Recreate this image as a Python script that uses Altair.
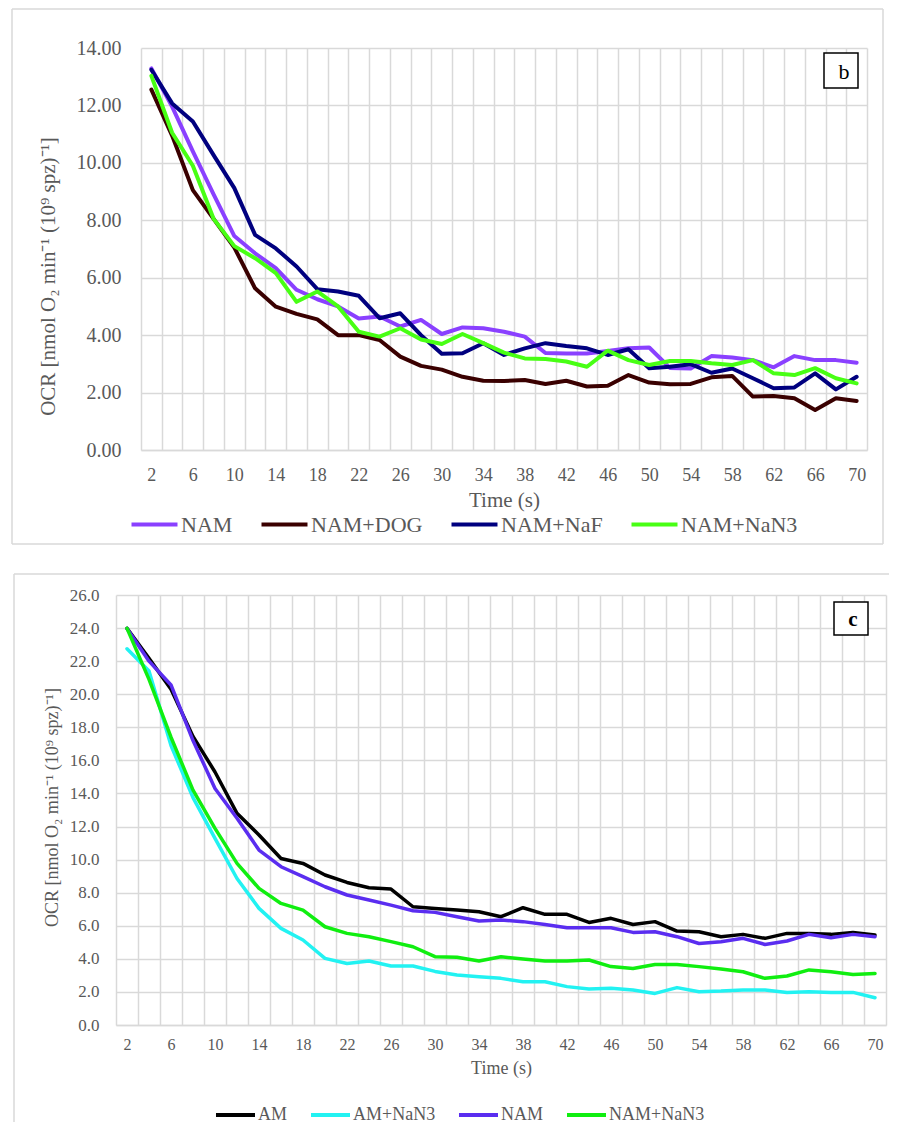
import altair as alt
import pandas as pd

# ---------------- data ----------------
time_s = list(range(2, 71, 2))

b_series = ["NAM", "NAM+DOG", "NAM+NaF", "NAM+NaN3"]
b_colors = ["#8A40FF", "#3A0000", "#00007F", "#48FF14"]
b_nam = [13.29, 11.96, 10.4, 8.9, 7.45, 6.85, 6.33, 5.58, 5.25, 5.0,
         4.58, 4.65, 4.3, 4.53, 4.04, 4.27, 4.24, 4.12, 3.95, 3.38,
         3.36, 3.36, 3.45, 3.54, 3.57, 2.86, 2.84, 3.27, 3.22, 3.13,
         2.88, 3.27, 3.13, 3.13, 3.04]
b_dog = [12.55, 10.95, 9.05, 8.05, 7.05, 5.63, 4.99, 4.74, 4.55, 4.0,
         4.0, 3.83, 3.25, 2.93, 2.8, 2.55, 2.41, 2.4, 2.44, 2.3,
         2.41, 2.21, 2.24, 2.61, 2.35, 2.29, 2.3, 2.53, 2.58, 1.86,
         1.88, 1.8, 1.39, 1.8, 1.71]
b_naf = [13.24, 12.07, 11.44, 10.27, 9.12, 7.49, 7.02, 6.39, 5.6, 5.52,
         5.37, 4.59, 4.76, 4.0, 3.35, 3.37, 3.72, 3.31, 3.54, 3.72,
         3.62, 3.54, 3.31, 3.51, 2.85, 2.9, 2.99, 2.69, 2.84, 2.5,
         2.15, 2.18, 2.67, 2.11, 2.55]
b_nan3 = [13.03, 11.05, 9.9, 8.05, 7.1, 6.68, 6.16, 5.16, 5.52, 5.0,
          4.12, 3.95, 4.24, 3.85, 3.69, 4.04, 3.72, 3.39, 3.19, 3.17,
          3.08, 2.9, 3.46, 3.13, 2.96, 3.1, 3.1, 3.02, 2.96, 3.13,
          2.67, 2.61, 2.85, 2.5, 2.32]

c_series = ["AM", "AM+NaN3", "NAM", "NAM+NaN3"]
c_colors = ["#000000", "#22F2F2", "#5A2DF0", "#10EE10"]
c_am = [23.98, 22.17, 20.3, 17.45, 15.3, 12.8, 11.49, 10.07, 9.77, 9.07,
        8.62, 8.3, 8.22, 7.15, 7.05, 6.95, 6.85, 6.55, 7.09, 6.69,
        6.69, 6.2, 6.45, 6.08, 6.25, 5.68, 5.64, 5.34, 5.48, 5.24,
        5.54, 5.54, 5.48, 5.6, 5.44]
c_am_nan3 = [22.75, 21.4, 16.9, 13.75, 11.28, 8.86, 7.05, 5.84, 5.14, 4.03,
             3.72, 3.87, 3.57, 3.57, 3.24, 3.02, 2.92, 2.82, 2.62, 2.62,
             2.32, 2.18, 2.22, 2.12, 1.91, 2.26, 2.01, 2.05, 2.12, 2.12,
             1.97, 2.01, 1.97, 1.97, 1.65]
c_nam = [23.98, 22.0, 20.56, 17.2, 14.3, 12.5, 10.58, 9.57, 8.97, 8.36,
         7.86, 7.56, 7.25, 6.91, 6.81, 6.55, 6.29, 6.35, 6.25, 6.08,
         5.88, 5.88, 5.88, 5.6, 5.64, 5.34, 4.93, 5.04, 5.24, 4.87,
         5.08, 5.48, 5.28, 5.48, 5.34]
c_nam_nan3 = [23.98, 20.9, 17.4, 14.2, 11.89, 9.77, 8.26, 7.35, 6.95, 5.94,
              5.54, 5.34, 5.04, 4.73, 4.13, 4.1, 3.87, 4.13, 3.99, 3.87,
              3.87, 3.93, 3.53, 3.42, 3.66, 3.66, 3.53, 3.39, 3.22, 2.82,
              2.96, 3.33, 3.22, 3.06, 3.12]


def long_df(names, lists):
    rows = []
    for name, vals in zip(names, lists):
        for t, v in zip(time_s, vals):
            rows.append({"Time": t, "OCR": v, "Series": name})
    return pd.DataFrame(rows)


b_df = long_df(b_series, [b_nam, b_dog, b_naf, b_nan3])
c_df = long_df(c_series, [c_am, c_am_nan3, c_nam, c_nam_nan3])
one = pd.DataFrame({"k": [0]})

# ---------------- style ----------------
FONT = "Liberation Serif"
GRID = "#D9D9D9"
TXT = "#595959"
YTITLE = "OCR [nmol O\u2082 min\u207b\u00b9 (10\u2079 spz)\u207b\u00b9]"
LABEL_EXPR = "(datum.value - 2) % 4 == 0 ? datum.label : ''"


def x_axis(fs_lab, pad, fs_title, tx, ty):
    return alt.Axis(title="Time (s)", labelExpr=LABEL_EXPR, labelAngle=0,
                    labelFont=FONT, labelFontSize=fs_lab, labelColor=TXT,
                    labelPadding=pad, ticks=False, tickSize=0, tickBand="extent",
                    grid=True, gridColor=GRID, gridWidth=1.5,
                    domain=True, domainColor=GRID, domainWidth=1.5,
                    labelOverlap=False,
                    titleFont=FONT, titleFontSize=fs_title, titleFontWeight="normal",
                    titleColor=TXT, titleX=tx, titleY=ty, titleBaseline="alphabetic",
                    titleAlign="center")


def y_axis(vals, fmt, fs_lab, pad, fs_title, tx, ty, offset=0):
    return alt.Axis(title=YTITLE, values=vals, format=fmt,
                    labelFont=FONT, labelFontSize=fs_lab, labelColor=TXT,
                    labelPadding=pad, ticks=False, tickSize=0, domain=False,
                    grid=True, gridColor=GRID, gridWidth=1.5, offset=offset,
                    titleFont=FONT, titleFontSize=fs_title, titleFontWeight="normal",
                    titleColor=TXT, titleAngle=270, titleX=tx, titleY=ty,
                    titleAlign="center", titleBaseline="middle")


def legend(x, y, fs, path, size, loff, colpad):
    return alt.Legend(title=None, orient="none", legendX=x, legendY=y,
                      direction="horizontal", columns=4,
                      symbolType=path, symbolSize=size, symbolStrokeWidth=4,
                      symbolFillColor="transparent",
                      labelFont=FONT, labelFontSize=fs, labelColor=TXT,
                      labelOffset=loff, columnPadding=colpad, padding=0)


def rule(x1, x2, y1, y2):
    enc = dict(x=alt.value(x1), y=alt.value(y1))
    if x2 is not None:
        enc["x2"] = alt.value(x2)
    if y2 is not None:
        enc["y2"] = alt.value(y2)
    return alt.Chart(one).mark_rule(color=GRID, strokeWidth=1.5).encode(**enc)


# ---------------- panel b ----------------
b_frame = [rule(-129, 742, -39, None), rule(-129, 742, 496, None),
           rule(-129, None, -39, 496), rule(742, None, -39, 496)]

b_lines = alt.Chart(b_df).mark_line(strokeWidth=4, strokeJoin="round", strokeCap="round").encode(
    x=alt.X("Time:O", bandPosition=0.5,
            scale=alt.Scale(type="band", paddingInner=0, paddingOuter=0),
            axis=x_axis(18, 16, 21, 363, 56)),
    y=alt.Y("OCR:Q", scale=alt.Scale(domain=[0, 14], nice=False),
            axis=y_axis(list(range(0, 15, 2)), ".2f", 20, 20, 21, -93, 228)),
    color=alt.Color("Series:N", sort=b_series,
                    scale=alt.Scale(domain=b_series, range=b_colors),
                    legend=legend(-10, 465.5, 22, "M-1.235,0H4.176", 289, 28, 20)),
)

b_box = alt.Chart(one).mark_rect(fill="white", stroke="black", strokeWidth=1.5).encode(
    x=alt.value(683), x2=alt.value(717), y=alt.value(5), y2=alt.value(40))
b_txt = alt.Chart(pd.DataFrame({"t": ["b"]})).mark_text(
    font=FONT, fontSize=22, color="black", baseline="middle", align="center").encode(
    text="t:N", x=alt.value(703), y=alt.value(24))

panel_b = alt.layer(*b_frame, b_lines, b_box, b_txt).properties(width=726, height=402)

# ---------------- panel c ----------------
c_frame = [rule(-127, 749, -21, None), rule(-127, None, -21, 527)]

c_lines = alt.Chart(c_df).mark_line(strokeWidth=3.5, strokeJoin="round", strokeCap="round").encode(
    x=alt.X("Time:O", bandPosition=0.5,
            scale=alt.Scale(type="band", paddingInner=0, paddingOuter=0, range=[-25, 745]),
            axis=x_axis(16, 11, 18, 360, 48)),
    y=alt.Y("OCR:Q", scale=alt.Scale(domain=[0, 26], nice=False),
            axis=y_axis(list(range(0, 27, 2)), ".1f", 17, 17, 18, -64, 212, offset=25)),
    color=alt.Color("Series:N", sort=c_series,
                    scale=alt.Scale(domain=c_series, range=c_colors),
                    legend=legend(75, 511, 18, "M-1.286,0H4.286", 196, 24, 14)),
)

c_box = alt.Chart(one).mark_rect(fill="white", stroke="black", strokeWidth=1.5).encode(
    x=alt.value(693), x2=alt.value(727), y=alt.value(7), y2=alt.value(40))
c_txt = alt.Chart(pd.DataFrame({"t": ["c"]})).mark_text(
    font=FONT, fontSize=21, fontWeight="bold", color="black", baseline="middle",
    align="center").encode(text="t:N", x=alt.value(712), y=alt.value(25))

panel_c = alt.layer(*c_frame, c_lines, c_box, c_txt).properties(width=745, height=430)

chart = alt.vconcat(panel_b, panel_c, spacing=28).resolve_scale(
    color="independent", x="independent", y="independent"
).properties(
    padding={"left": 3, "top": 0, "right": -22, "bottom": 0},
    background="white",
).configure_view(stroke=None)

chart.save("out.html", embed_options={"renderer": "svg", "actions": False})
